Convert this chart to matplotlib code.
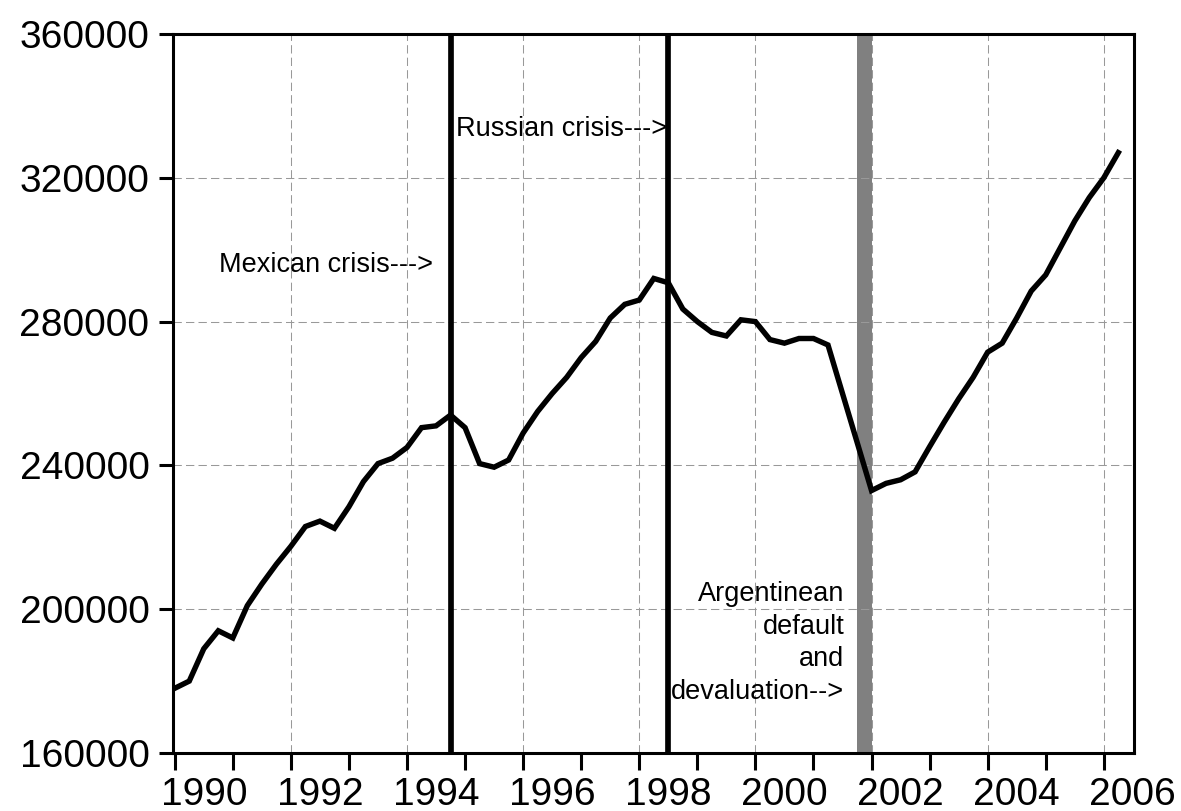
import matplotlib
matplotlib.use("Agg")
import matplotlib.pyplot as plt
import numpy as np

# ---- data -------------------------------------------------------------
start_year = 1990
values = [178000, 180000, 189000, 194000, 192000, 201000, 207000, 212500, 217500, 223000,
          224500, 222500, 228500, 235500, 240500, 242000, 245000, 250500, 251000, 254000,
          250500, 240500, 239500, 241500, 249000, 255000, 260000, 264500, 270000, 274500,
          281000, 284800, 286000, 292000, 290800, 283500, 280000, 277000, 276000, 280500,
          280000, 275000, 274000, 275300, 275300, 273500, 260000, 246500, 233000, 235000,
          236000, 238200, 245200, 252000, 258500, 264500, 271500, 274000, 281000, 288500,
          293000, 300500, 308000, 314500, 320000, 327000]
crisis_lines = [1994.75, 1998.5]
band = (2001.75, 2002.0)
year_ticks = list(range(1990, 2007))
label_years = list(range(1990, 2007, 2))
y_ticks = [160000, 200000, 240000, 280000, 320000, 360000]
annotations = [
    ("Mexican crisis--->", 1994.45, 293800),
    ("Russian crisis--->", 1998.48, 331700),
]
arg_text = "Argentinean\ndefault\nand\ndevaluation-->"

x = start_year + np.arange(len(values)) / 4.0

plt.rcParams['font.family'] = ['Liberation Sans', 'DejaVu Sans']

fig = plt.figure(figsize=(11.81, 8.11), dpi=100)
ax = fig.add_axes([173/1181, 1 - 753/811, (1134 - 173)/1181, (753 - 34)/811])

# grid
grid_kw = dict(color='#999999', lw=0.75, dashes=(8, 4), zorder=1)
for yv in y_ticks[1:-1]:
    ax.axhline(yv, **grid_kw)
for yr in label_years[1:]:
    ax.axvline(yr, **grid_kw)

ax.axvspan(band[0], band[1], color='#808080', lw=0, zorder=0.5)
for cx in crisis_lines:
    ax.axvline(cx, color='black', lw=4.1, zorder=2)

ax.plot(x, values, color='black', lw=3.9, solid_joinstyle='miter', zorder=3)

for txt, tx, ty in annotations:
    ax.text(tx, ty, txt, ha='right', va='baseline', fontsize=19.5, zorder=4)
ax.text(2001.53, 175000, arg_text, ha='right', va='baseline', fontsize=19.5,
        linespacing=1.33, multialignment='right', zorder=4)

ax.set_xlim(1989.97, 2006.52)
ax.set_ylim(160000, 360000)

ax.set_yticks(y_ticks)
ax.set_yticklabels([str(v) for v in y_ticks])
ax.set_xticks(year_ticks)
ax.set_xticklabels([])
ax.set_xticks([y + 0.5 for y in label_years], minor=True)
ax.set_xticklabels([str(y) for y in label_years], minor=True)

ax.tick_params(axis='y', which='major', direction='out', length=10, width=2.2,
               labelsize=28, pad=7)
ax.tick_params(axis='x', which='major', direction='out', length=12, width=2.2)
ax.tick_params(axis='x', which='minor', length=0, labelsize=28, pad=17)

for s in ax.spines.values():
    s.set_linewidth(2.2)
    s.set_zorder(5)

fig.savefig("out.png", dpi=100)
